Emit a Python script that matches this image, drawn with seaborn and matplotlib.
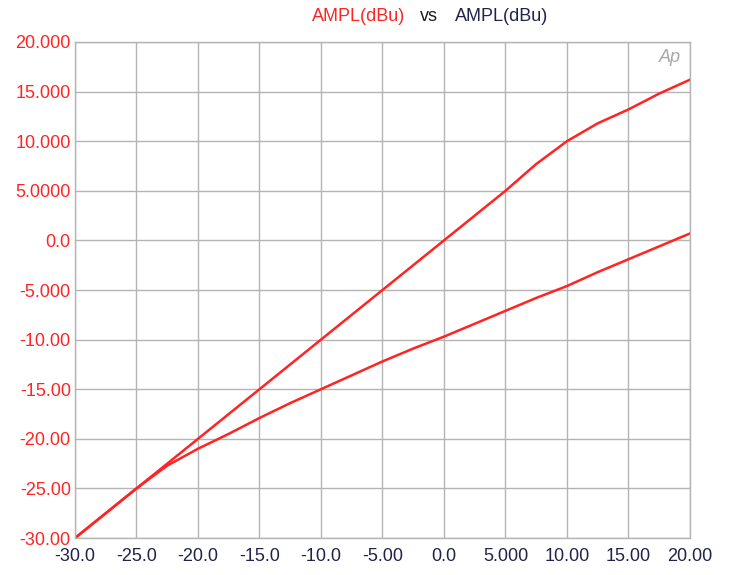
import matplotlib
matplotlib.use("Agg")
import matplotlib.pyplot as plt
import seaborn as sns
import pandas as pd

# --- data (input dBu vs output dBu) ---
x_in = [-30, -27.5, -25, -22.5, -20, -17.5, -15, -12.5, -10, -7.5, -5, -2.5,
        0, 2.5, 5, 7.5, 10, 12.5, 15, 17.5, 20]
upper_out = [-30, -27.5, -25, -22.5, -20, -17.5, -15, -12.5, -10, -7.5, -5, -2.5,
             0, 2.5, 5, 7.7, 10.0, 11.8, 13.2, 14.8, 16.2]
lower_out = [-30, -27.5, -25, -22.7, -21.0, -19.5, -17.9, -16.4, -15.0, -13.6, -12.2, -10.9,
             -9.7, -8.4, -7.1, -5.8, -4.6, -3.2, -1.9, -0.6, 0.7]

x_ticks = [-30, -25, -20, -15, -10, -5, 0, 5, 10, 15, 20]
x_labels = ["-30.0", "-25.0", "-20.0", "-15.0", "-10.0", "-5.00", "0.0",
            "5.000", "10.00", "15.00", "20.00"]
y_ticks = [-30, -25, -20, -15, -10, -5, 0, 5, 10, 15, 20]
y_labels = ["-30.00", "-25.00", "-20.00", "-15.00", "-10.00", "-5.000", "0.0",
            "5.0000", "10.000", "15.000", "20.000"]

RED = "#ff2424"
NAVY = "#22224a"
GRID = "#b4b4b4"
FS = 13

sns.set_style("white")
plt.rcParams["font.family"] = ["Liberation Sans", "DejaVu Sans"]

df = pd.DataFrame({"x": x_in, "upper": upper_out, "lower": lower_out})

fig = plt.figure(figsize=(7.31, 5.75), dpi=100)
ax = fig.add_axes([0.1026, 0.0643, 0.8413, 0.8627])

sns.lineplot(data=df, x="x", y="upper", ax=ax, color=RED, linewidth=1.8)
sns.lineplot(data=df, x="x", y="lower", ax=ax, color=RED, linewidth=1.8)

ax.set_xlim(-30, 20)
ax.set_ylim(-30, 20)
ax.set_xticks(x_ticks)
ax.set_xticklabels(x_labels, color=NAVY, fontsize=FS)
ax.set_yticks(y_ticks)
ax.set_yticklabels(y_labels, color=RED, fontsize=FS)
ax.tick_params(axis="y", length=0, pad=3)
ax.tick_params(axis="x", length=0, pad=7)
ax.set_xlabel("")
ax.set_ylabel("")
ax.grid(True, color=GRID, linewidth=1)
ax.set_axisbelow(True)
for s in ax.spines.values():
    s.set_color(GRID)
    s.set_linewidth(1)

# title in three colours
fig.text(0.427, 0.972, "AMPL(dBu)", color=RED, fontsize=FS, ha="left", va="center")
fig.text(0.575, 0.972, "vs", color="#1a1a1a", fontsize=FS, ha="left", va="center")
fig.text(0.623, 0.972, "AMPL(dBu)", color=NAVY, fontsize=FS, ha="left", va="center")

# Ap logo
ax.text(0.985, 0.985, "Ap", transform=ax.transAxes, color="#a8a8a8", fontsize=13,
        style="italic", ha="right", va="top")

fig.savefig("out.png", dpi=100)
